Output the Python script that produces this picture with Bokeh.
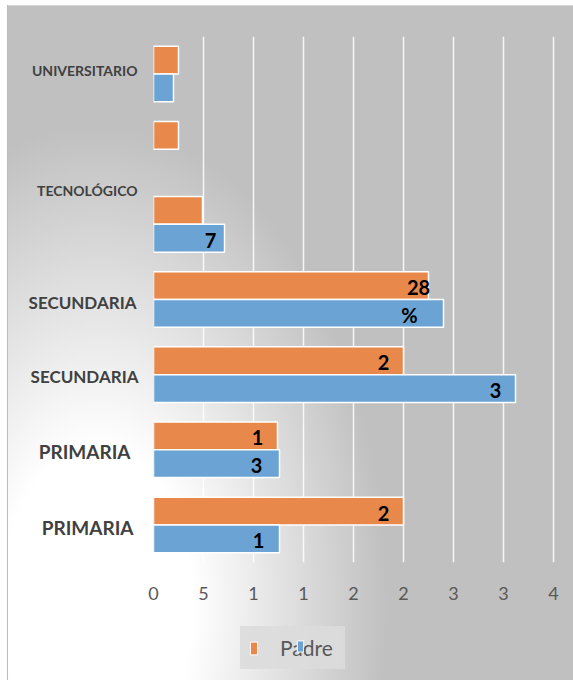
from bokeh.plotting import figure
from bokeh.layouts import row, column
from bokeh.models import ColumnDataSource, FixedTicker, Legend, LegendItem, CDSView, BooleanFilter
from bokeh.core.properties import value
from bokeh.embed import file_html
from bokeh.resources import INLINE

# ---- data ----
categorias = ["PRIMARIA", "PRIMARIA", "SECUNDARIA", "SECUNDARIA", "TECNOLÓGICO", "", "UNIVERSITARIO"]
padre = [2.50, 1.24, 2.50, 2.75, 0.49, 0.25, 0.25]
serie_azul = [1.26, 1.26, 3.62, 2.90, 0.71, 0.0, 0.20]
etiquetas_padre = ["2", "1", "2", "28", "", "", ""]
etiquetas_azul = ["1", "3", "3", "%", "7", "", ""]
ticks = [0, 0.5, 1, 1.5, 2, 2.5, 3, 3.5, 4]
tick_labels = ["0", "5", "1", "1", "2", "2", "3", "3", "4"]
nombre_serie = "Padre"

# ---- styles ----
tam_cat = ["19px", "19px", "17px", "17px", "14px", "14px", "14px"]
desp_cat = [-0.03, -0.02, -0.03, -0.04, 0.445, 0, 0.05]
dx_cat = [-7, -10, -2, -4, -3, -3, -3]
desp_padre = [-20, -20, -20, -10, 0, 0, 0]
desp_azul = [-21, -23, -20, -34, -14, 0, 0]
NARANJA = "#E8894B"
AZUL = "#6AA3D4"
H = 0.37
TOP, BOTTOM, FIG_H = 36, 48, 610
LEFT_W, GAP = 140, 13

idx = list(range(1, len(categorias) + 1))
src_o = ColumnDataSource(dict(y=[i + H / 2 for i in idx], v=padre, t=etiquetas_padre, dx=desp_padre))
src_b = ColumnDataSource(dict(y=[i - H / 2 for i in idx], v=serie_azul, t=etiquetas_azul, dx=desp_azul))
src_c = ColumnDataSource(dict(y=[i + d for i, d in zip(idx, desp_cat)], t=categorias, s=tam_cat, dx=dx_cat))

# ---- main chart ----
p = figure(width=573 - LEFT_W, height=FIG_H, x_range=(0, 4.07), y_range=(0.5, 7.5),
           y_axis_location=None, output_backend="svg", toolbar_location=None,
           min_border_left=GAP, min_border_right=13, min_border_top=TOP, min_border_bottom=BOTTOM)
p.background_fill_color = None
p.border_fill_color = None
p.outline_line_color = None

r_o = p.hbar(y="y", left=0, right="v", height=H, source=src_o, fill_color=NARANJA,
             line_color="white", line_width=1.5,
             view=CDSView(filter=BooleanFilter([v > 0 for v in padre])))
r_b = p.hbar(y="y", left=0, right="v", height=H, source=src_b, fill_color=AZUL,
             line_color="white", line_width=1.5,
             view=CDSView(filter=BooleanFilter([v > 0 for v in serie_azul])))

for src in (src_o, src_b):
    p.text(x="v", y="y", text="t", x_offset="dx", y_offset=2, source=src,
           text_align="center", text_baseline="middle", text_color="black",
           text_font=value("Lato"), text_font_style="bold", text_font_size="20px")

p.ygrid.visible = False
p.xaxis.ticker = FixedTicker(ticks=ticks)
p.xaxis.major_label_overrides = dict(zip(ticks, tick_labels))
p.xaxis.axis_line_color = None
p.xaxis.major_tick_line_color = None
p.xaxis.minor_tick_line_color = None
p.xaxis.major_tick_out = 0
p.xaxis.major_tick_in = 0
p.xaxis.major_label_standoff = 24
p.xaxis.major_label_text_font = "Lato"
p.xaxis.major_label_text_font_size = "18px"
p.xaxis.major_label_text_color = "#595959"
p.xgrid.grid_line_color = "white"
p.xgrid.grid_line_width = 1.5
p.xgrid.grid_line_alpha = 0.85

# ---- category labels ----
pl = figure(width=LEFT_W, height=FIG_H, x_range=(0, 1), y_range=p.y_range,
            x_axis_location=None, y_axis_location=None, output_backend="svg",
            toolbar_location=None, min_border_left=0, min_border_right=0,
            min_border_top=TOP, min_border_bottom=BOTTOM)
pl.background_fill_color = None
pl.border_fill_color = None
pl.outline_line_color = None
pl.grid.visible = False
pl.text(x=1, y="y", text="t", text_font_size="s", x_offset="dx", source=src_c,
        text_align="right", text_baseline="middle", text_color="#404040",
        text_font=value("Lato"), text_font_style="bold")

# ---- legend strip ----
pg = figure(width=573, height=680 - FIG_H, x_range=(0, 1), y_range=(0, 1),
            x_axis_location=None, y_axis_location=None, output_backend="svg",
            toolbar_location=None, min_border=0)
pg.background_fill_color = None
pg.border_fill_color = None
pg.outline_line_color = None
pg.grid.visible = False
# legend-only renderers (kept outside the visible range)
e = dict(y=[-5], v=[0.1])
g_o = pg.hbar(y="y", left=0, right="v", height=0.1, source=ColumnDataSource(e),
              fill_color=NARANJA, line_color="white", line_width=1)
g_b = pg.hbar(y="y", left=0, right="v", height=0.1, source=ColumnDataSource(e),
              fill_color=AZUL, line_color="white", line_width=1)
leg = Legend(items=[LegendItem(label=nombre_serie, renderers=[g_o])], location=(240, 11),
             glyph_width=9, glyph_height=16, label_standoff=22, label_width=56,
             padding=9, margin=0,
             border_line_color="#dcdcdc", border_line_alpha=0,
             background_fill_color="#dcdcdc", background_fill_alpha=0.9,
             label_text_font="Lato", label_text_font_size="21px", label_text_color="#595959")
pg.add_layout(leg)
leg2 = Legend(items=[LegendItem(label=" ", renderers=[g_b])], location=(296, 27),
              glyph_width=8, glyph_height=14, label_standoff=0, padding=0, margin=0,
              border_line_color=None, background_fill_alpha=0, label_text_font_size="2px")
pg.add_layout(leg2)

layout = column(row(pl, p, spacing=0), pg, spacing=0)
layout.styles = {
    "background-color": "white",
    "background-image": ("linear-gradient(#bdbdbd, #bdbdbd), linear-gradient(#d6d6d6, #d6d6d6), "
                         "radial-gradient(ellipse 290px 480px at 90px 600px, #ffffff 0%, #ffffff 33%, #c0c0c0 100%)"),
    "background-position": "7px 5px, 7px 5px, 7px 5px",
    "background-size": "1px 675px, 566px 1px, 566px 675px",
    "background-repeat": "no-repeat",
}

open("out.html", "w").write(file_html(layout, INLINE))
